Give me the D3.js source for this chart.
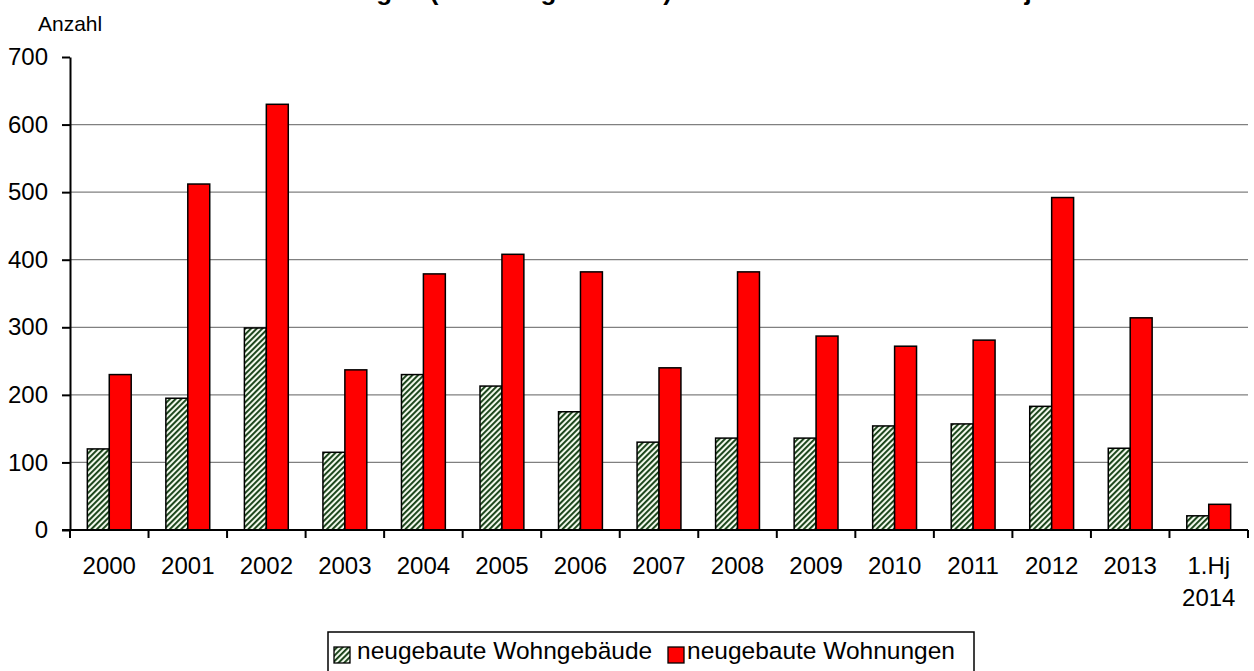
<!DOCTYPE html>
<html>
<head>
<meta charset="utf-8">
<script src="https://cdn.jsdelivr.net/npm/d3@7"></script>
<style>
  body { margin: 0; background: #fff; }
  svg { display: block; font-family: 'Liberation Sans', Arial, sans-serif; }
</style>
</head>
<body>
<svg id="chart"></svg>
<script>
var categories = ['2000', '2001', '2002', '2003', '2004', '2005', '2006', '2007', '2008', '2009', '2010', '2011', '2012', '2013', '1.Hj 2014'];
var seriesNames = ['neugebaute Wohngebäude', 'neugebaute Wohnungen'];
var gebaeude = [120, 195, 299, 115, 230, 213, 175, 130, 136, 136, 154, 157, 183, 121, 21];
var wohnungen = [230, 512, 630, 237, 379, 408, 382, 240, 382, 287, 272, 281, 492, 314, 38];
var yTicks = [0, 100, 200, 300, 400, 500, 600, 700];

var width = 1254,
  height = 671,
  margin = { top: 57, right: 6, bottom: 141, left: 70 },
  innerWidth = width - margin.left - margin.right,
  innerHeight = height - margin.top - margin.bottom;

var svg = d3.select('#chart').attr('width', width).attr('height', height);

// hatch pattern for the buildings series
var defs = svg.append('defs');
var pat = defs
  .append('pattern')
  .attr('id', 'hatch')
  .attr('patternUnits', 'userSpaceOnUse')
  .attr('width', 4)
  .attr('height', 4)
  .attr('patternTransform', 'rotate(45)');
pat.append('rect').attr('width', 4).attr('height', 4).attr('fill', '#f2f9ec');
pat.append('rect').attr('x', 0).attr('width', 1.9).attr('height', 4).attr('fill', '#143f14');

var colors = ['url(#hatch)', '#ff0000'];

var x0 = d3.scaleBand().domain(categories).range([0, innerWidth]).padding(0);
var x1 = d3
  .scaleBand()
  .domain(seriesNames)
  .range([0, x0.bandwidth()])
  .paddingInner(0)
  .paddingOuter(0.79);
var y = d3.scaleLinear().domain([0, 700]).range([innerHeight, 0]);

// title, mostly cut off at the top edge
svg
  .append('text')
  .attr('x', 627)
  .attr('y', 0)
  .attr('text-anchor', 'middle')
  .attr('font-size', 26)
  .attr('font-weight', 'bold')
  .text('Neubau von Wohnungen (in Wohngebäuden) in der Stadt 2000 bis 1. Halbjahr 2014');

svg
  .append('text')
  .attr('x', 38)
  .attr('y', 31)
  .attr('font-size', 21)
  .text('Anzahl');

var g = svg.append('g').attr('transform', 'translate(' + margin.left + ',' + margin.top + ')');

// gridlines
g.append('g')
  .selectAll('line')
  .data(yTicks.filter((d) => d > 0 && d < 700))
  .enter()
  .append('line')
  .attr('x1', 0)
  .attr('x2', innerWidth)
  .attr('y1', (d) => y(d))
  .attr('y2', (d) => y(d))
  .attr('stroke', '#808080')
  .attr('stroke-width', 1.3);

// bars
var data = categories.map((c, i) => ({ cat: c, vals: [gebaeude[i], wohnungen[i]] }));
g.append('g')
  .selectAll('g')
  .data(data)
  .enter()
  .append('g')
  .attr('transform', (d) => 'translate(' + x0(d.cat) + ',0)')
  .selectAll('rect')
  .data((d) => d.vals.map((v, j) => ({ key: seriesNames[j], v: v, j: j })))
  .enter()
  .append('rect')
  .attr('x', (d) => x1(d.key))
  .attr('y', (d) => y(d.v))
  .attr('width', x1.bandwidth())
  .attr('height', (d) => innerHeight - y(d.v))
  .attr('fill', (d) => colors[d.j])
  .attr('stroke', '#000')
  .attr('stroke-width', 1.5);

// y axis
var yAxis = d3.axisLeft(y).tickValues(yTicks).tickSize(8).tickSizeOuter(0).tickPadding(14);
var ya = g.append('g').call(yAxis);
ya.select('.domain').attr('stroke', '#000').attr('stroke-width', 2);
ya.selectAll('.tick line').attr('stroke', '#000').attr('stroke-width', 2);
ya.selectAll('text').attr('font-size', 24).attr('fill', '#000').attr('font-family', null);

// x axis, ticks sit between the categories
var xa = g.append('g').attr('transform', 'translate(0,' + innerHeight + ')');
xa.append('line')
  .attr('x1', -8)
  .attr('x2', innerWidth)
  .attr('stroke', '#000')
  .attr('stroke-width', 2);
xa.selectAll('line.tk')
  .data(categories.concat(['end']))
  .enter()
  .append('line')
  .attr('class', 'tk')
  .attr('x1', (d, i) => i * x0.step())
  .attr('x2', (d, i) => i * x0.step())
  .attr('y1', 0)
  .attr('y2', 8)
  .attr('stroke', '#000')
  .attr('stroke-width', 2);
xa.selectAll('text')
  .data(categories)
  .enter()
  .append('text')
  .attr('x', (d) => x0(d) + x0.bandwidth() / 2)
  .attr('y', 44)
  .attr('text-anchor', 'middle')
  .attr('font-size', 24)
  .each(function (d) {
    var parts = d.split(' ');
    var t = d3.select(this);
    parts.forEach((p, k) => {
      t.append('tspan')
        .attr('x', x0(d) + x0.bandwidth() / 2)
        .attr('dy', k === 0 ? 0 : 32)
        .text(p);
    });
  });

// legend
var lg = svg.append('g').attr('transform', 'translate(328,632)');
lg.append('rect')
  .attr('width', 646)
  .attr('height', 50)
  .attr('fill', '#fff')
  .attr('stroke', '#000')
  .attr('stroke-width', 1.5);
var items = [
  { name: seriesNames[0], fill: colors[0], x: 6, tx: 29 },
  { name: seriesNames[1], fill: colors[1], x: 340, tx: 359 }
];
var li = lg
  .selectAll('g.item')
  .data(items)
  .enter()
  .append('g')
  .attr('class', 'item')
  .attr('transform', (d) => 'translate(' + d.x + ',0)');
li.append('rect')
  .attr('y', 15)
  .attr('width', 16)
  .attr('height', 16)
  .attr('fill', (d) => d.fill)
  .attr('stroke', '#000')
  .attr('stroke-width', 1.3);
li.append('text')
  .attr('x', (d) => d.tx - d.x)
  .attr('y', 27)
  .attr('font-size', 24.5)
  .text((d) => d.name);
</script>
</body>
</html>
